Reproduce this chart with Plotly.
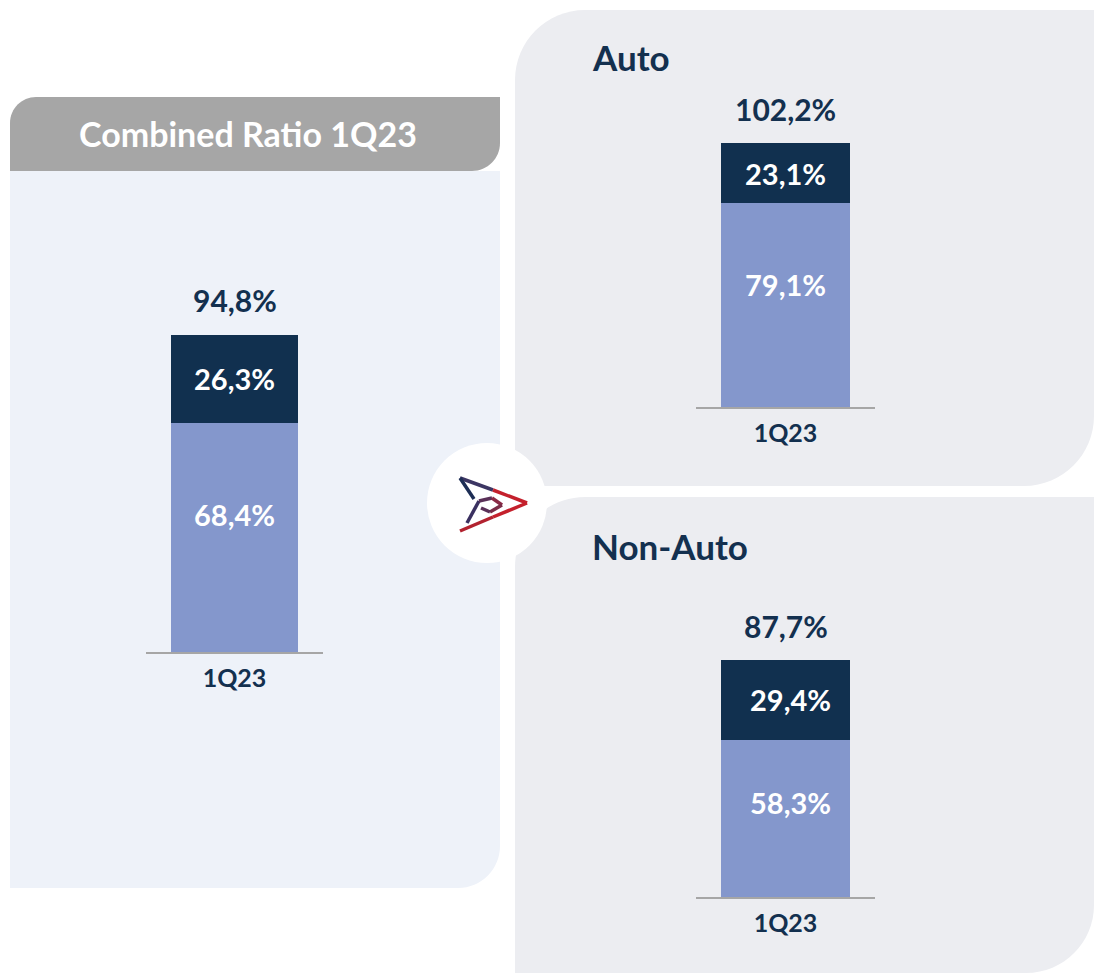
import plotly.graph_objects as go

# %% Data
categories = ["1Q23"]

combined_loss = [68.4]
combined_expense = [26.3]
combined_total = [94.8]

auto_loss = [79.1]
auto_expense = [23.1]
auto_total = [102.2]

nonauto_loss = [58.3]
nonauto_expense = [29.4]
nonauto_total = [87.7]

# %% Style
W, H = 1094, 973
NAVY = "#13304F"
BAR_LIGHT = "#8497CC"
BAR_DARK = "#11304F"
HEADER_GRAY = "#A6A6A6"
LEFT_BG = "#EEF2F9"
RIGHT_BG = "#ECEDF1"
AXIS_GRAY = "#A6A6A6"
FONT = "Lato"


def px(x):
    return x / W


def py(y):
    return 1 - y / H


def fmt(v):
    return f"{v:.1f}".replace(".", ",") + "%"


def rrect(x0, y0, x1, y1, tl=0, tr=0, br=0, bl=0):
    """Rounded rectangle path in paper coords, radii given in pixels."""
    k = 0.552

    def p(x, y):
        return f"{px(x):.5f},{py(y):.5f}"

    d = f"M {p(x0 + tl, y0)} L {p(x1 - tr, y0)} "
    d += f"C {p(x1 - tr + k * tr, y0)} {p(x1, y0 + tr - k * tr)} {p(x1, y0 + tr)} "
    d += f"L {p(x1, y1 - br)} "
    d += f"C {p(x1, y1 - br + k * br)} {p(x1 - br + k * br, y1)} {p(x1 - br, y1)} "
    d += f"L {p(x0 + bl, y1)} "
    d += f"C {p(x0 + bl - k * bl, y1)} {p(x0, y1 - bl + k * bl)} {p(x0, y1 - bl)} "
    d += f"L {p(x0, y0 + tl)} "
    d += f"C {p(x0, y0 + tl - k * tl)} {p(x0 + tl - k * tl, y0)} {p(x0 + tl, y0)} Z"
    return d


fig = go.Figure()

# (axis suffix, loss, expense, total, label x-shift)
panels = [
    ("", combined_loss, combined_expense, combined_total, 0),
    ("2", auto_loss, auto_expense, auto_total, 0),
    ("3", nonauto_loss, nonauto_expense, nonauto_total, 5),
]

for sfx, loss, exp, tot, xs in panels:
    xa, ya = "x" + sfx, "y" + sfx
    fig.add_trace(go.Bar(x=categories, y=loss, marker_color=BAR_LIGHT,
                         marker_line_width=0, width=0.72, xaxis=xa, yaxis=ya,
                         hoverinfo="skip"))
    fig.add_trace(go.Bar(x=categories, y=exp, marker_color=BAR_DARK,
                         marker_line_width=0, width=0.72, xaxis=xa, yaxis=ya,
                         hoverinfo="skip"))
    for c, l, e, t in zip(categories, loss, exp, tot):
        fig.add_annotation(x=c, y=t, xref=xa, yref=ya, text=fmt(t),
                           showarrow=False, yshift=34, yanchor="middle", xanchor="center",
                           font=dict(family=FONT, size=30, color=NAVY, weight="bold"))
        fig.add_annotation(x=c, y=l + e / 2, xref=xa, yref=ya, text=fmt(e),
                           showarrow=False, xshift=xs, yanchor="middle", xanchor="center",
                           font=dict(family=FONT, size=29, color="white", weight="bold"))
        fig.add_annotation(x=c, y=l * 0.6, xref=xa, yref=ya, text=fmt(l),
                           showarrow=False, xshift=xs, yanchor="middle", xanchor="center",
                           font=dict(family=FONT, size=29, color="white", weight="bold"))

axis_common = dict(showline=True, linecolor=AXIS_GRAY, linewidth=2,
                   showgrid=False, zeroline=False, ticks="", ticklabelstandoff=3,
                   tickfont=dict(family=FONT, size=25, color=NAVY, weight="bold"),
                   range=[-0.5, 0.5], fixedrange=True)
yaxis_common = dict(visible=False, showgrid=False, zeroline=False, fixedrange=True)

fig.update_layout(
    xaxis=dict(domain=[px(146), px(323)], anchor="y", **axis_common),
    yaxis=dict(domain=[py(652), py(652 - 3.35 * 100)], range=[0, 100], anchor="x", **yaxis_common),
    xaxis2=dict(domain=[px(696), px(875)], anchor="y2", **axis_common),
    yaxis2=dict(domain=[py(407), py(407 - 2.58 * 110)], range=[0, 110], anchor="x2", **yaxis_common),
    xaxis3=dict(domain=[px(696), px(875)], anchor="y3", **axis_common),
    yaxis3=dict(domain=[py(897), py(897 - 2.7 * 100)], range=[0, 100], anchor="x3", **yaxis_common),
)

# %% Panels
shapes = [
    dict(type="path", path=rrect(10, 171, 500, 888, br=42), fillcolor=LEFT_BG),
    dict(type="path", path=rrect(10, 97, 500, 171, tl=26, br=28), fillcolor=HEADER_GRAY),
    dict(type="path", path=rrect(515, 10, 1094, 486, tl=70, br=70), fillcolor=RIGHT_BG),
    dict(type="path", path=rrect(515, 497, 1094, 973, tl=70, br=68), fillcolor=RIGHT_BG),
    dict(type="circle", x0=px(427), x1=px(547), y0=py(563), y1=py(443), fillcolor="white"),
]
for s in shapes:
    s.update(xref="paper", yref="paper", line_width=0, layer="below")
    fig.add_shape(**s)

# %% Logo (arrow mark)
logo = [
    ((460, 478), (493, 490), "#3C3663"),
    ((493, 490), (527, 503), "#C4202C"),
    ((527, 503), (493, 517), "#C4202C"),
    ((493, 517), (460, 531), "#B2222F"),
    ((460, 478), (474, 499), "#1D2E55"),
    ((479, 501), (467, 523), "#3A3060"),
    ((479, 501), (492, 498), "#5A3058"),
    ((492, 498), (502, 505), "#8A2A45"),
    ((502, 505), (490, 512), "#7A2C47"),
    ((490, 512), (481, 508), "#5A3058"),
]
for (x0, y0), (x1, y1), col in logo:
    fig.add_shape(type="line", xref="paper", yref="paper",
                  x0=px(x0), y0=py(y0), x1=px(x1), y1=py(y1),
                  line=dict(color=col, width=3.5))

# %% Titles
title_font = dict(family=FONT, size=35, color=NAVY, weight="bold")
fig.add_annotation(x=px(248), y=py(134), xref="paper", yref="paper",
                   xanchor="center", yanchor="middle",
                   text="Combined Ratio 1Q23", showarrow=False,
                   font=dict(family=FONT, size=34, color="white", weight="bold"))
fig.add_annotation(x=px(590), y=py(57), xref="paper", yref="paper",
                   xanchor="left", yanchor="middle",
                   text="Auto", showarrow=False, font=title_font)
fig.add_annotation(x=px(590), y=py(546), xref="paper", yref="paper",
                   xanchor="left", yanchor="middle",
                   text="Non-Auto", showarrow=False, font=title_font)

fig.update_layout(
    width=W, height=H, margin=dict(l=0, r=0, t=0, b=0),
    barmode="stack", showlegend=False, bargap=0,
    paper_bgcolor="white", plot_bgcolor="rgba(0,0,0,0)",
)

fig.write_html("out.html", config={"displayModeBar": False},
               post_script="document.body.style.margin='0';document.body.style.overflow='hidden';")
